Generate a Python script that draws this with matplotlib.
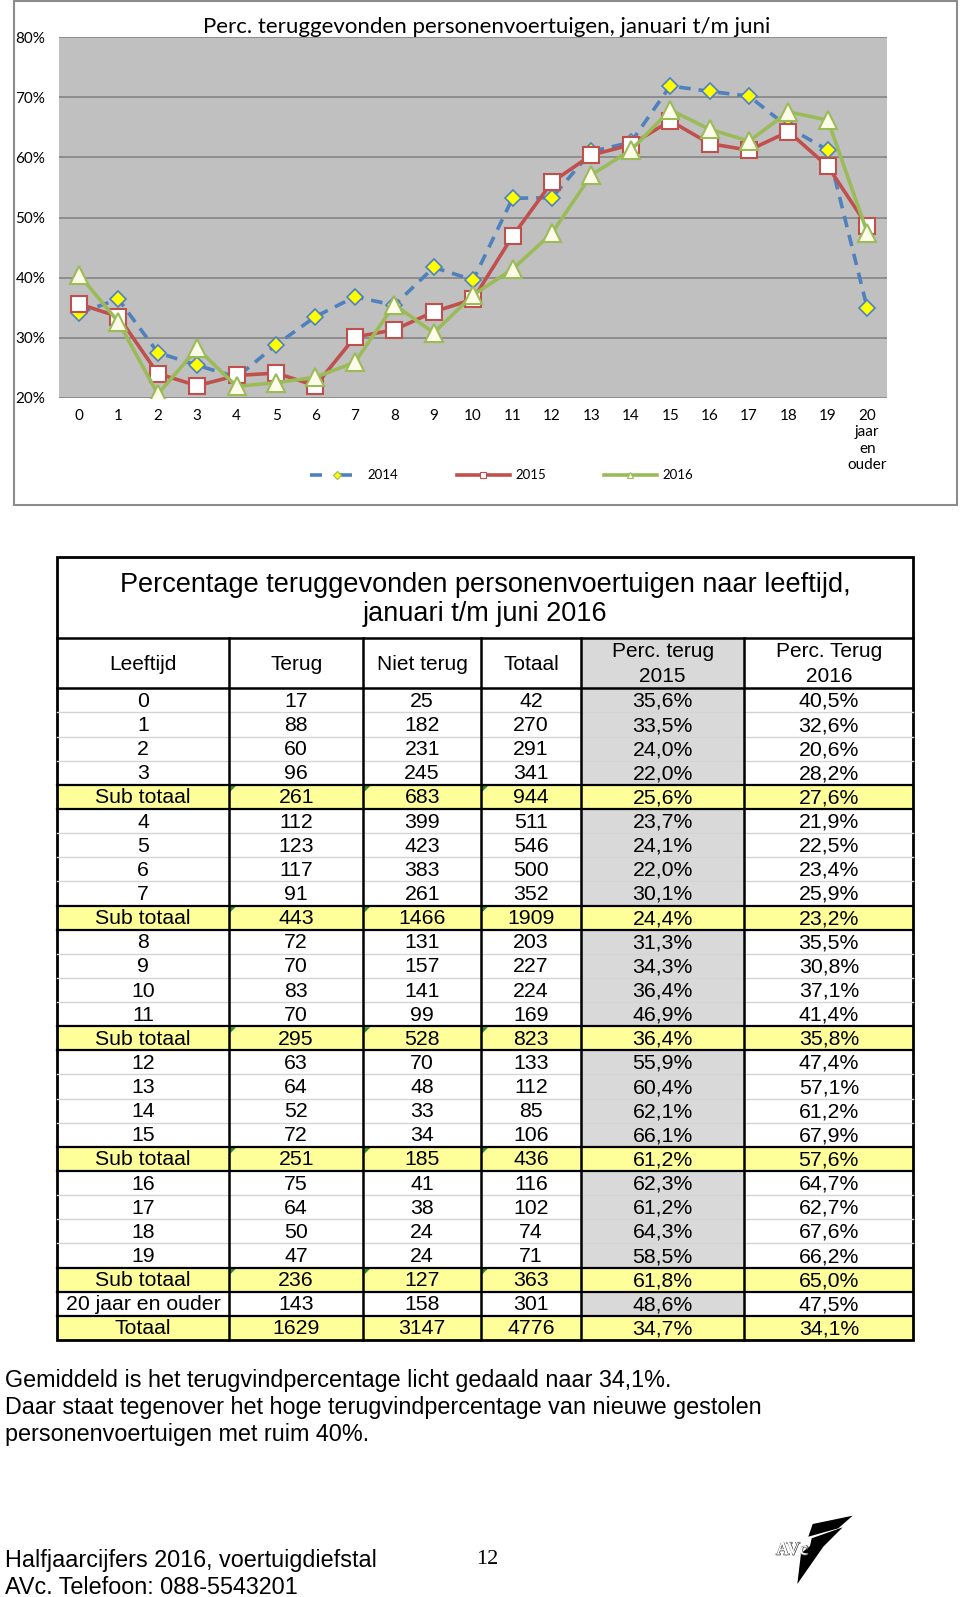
import matplotlib
matplotlib.use('Agg')
import matplotlib.pyplot as plt
from matplotlib.patches import Rectangle, Polygon
import matplotlib.patheffects as pe

# ---- data ----
leeftijd = ['0', '1', '2', '3', 'Sub totaal', '4', '5', '6', '7', 'Sub totaal',
            '8', '9', '10', '11', 'Sub totaal', '12', '13', '14', '15', 'Sub totaal',
            '16', '17', '18', '19', 'Sub totaal', '20 jaar en ouder', 'Totaal']
terug = [17, 88, 60, 96, 261, 112, 123, 117, 91, 443, 72, 70, 83, 70, 295,
         63, 64, 52, 72, 251, 75, 64, 50, 47, 236, 143, 1629]
niet_terug = [25, 182, 231, 245, 683, 399, 423, 383, 261, 1466, 131, 157, 141, 99, 528,
              70, 48, 33, 34, 185, 41, 38, 24, 24, 127, 158, 3147]
totaal = [42, 270, 291, 341, 944, 511, 546, 500, 352, 1909, 203, 227, 224, 169, 823,
          133, 112, 85, 106, 436, 116, 102, 74, 71, 363, 301, 4776]
perc_2015 = [35.6, 33.5, 24.0, 22.0, 25.6, 23.7, 24.1, 22.0, 30.1, 24.4, 31.3, 34.3, 36.4, 46.9, 36.4,
             55.9, 60.4, 62.1, 66.1, 61.2, 62.3, 61.2, 64.3, 58.5, 61.8, 48.6, 34.7]
perc_2016 = [40.5, 32.6, 20.6, 28.2, 27.6, 21.9, 22.5, 23.4, 25.9, 23.2, 35.5, 30.8, 37.1, 41.4, 35.8,
             47.4, 57.1, 61.2, 67.9, 57.6, 64.7, 62.7, 67.6, 66.2, 65.0, 47.5, 34.1]

# 2014 only appears in the chart
perc_2014 = [34.1, 36.4, 27.5, 25.4, 23.4, 28.8, 33.5, 36.8, 35.4, 41.7, 39.6,
             53.2, 53.3, 61.0, 62.5, 71.9, 71.0, 70.2, 65.0, 61.2, 34.9]

chart_labels = [str(i) for i in range(20)] + ['20\njaar\nen\nouder']
header = ['Leeftijd', 'Terug', 'Niet terug', 'Totaal', 'Perc. terug\n2015', 'Perc. Terug\n2016']

# chart series 2015/2016 come from the table rows (skip subtotal and total rows)
age_rows = [i for i, l in enumerate(leeftijd) if l not in ('Sub totaal', 'Totaal')]
chart_2015 = [perc_2015[i] for i in age_rows]
chart_2016 = [perc_2016[i] for i in age_rows]

W, H = 960, 1597
fig = plt.figure(figsize=(W / 100, H / 100), dpi=100)

# page layer in pixel coordinates
pax = fig.add_axes([0, 0, 1, 1])
pax.set_xlim(0, W)
pax.set_ylim(H, 0)
pax.axis('off')

# ---- chart ----
pax.add_patch(Rectangle((14, 1), 943, 504, fill=False, ec='#8c8c8c', lw=1.5))

L, R, T, B = 59.3, 887, 37.3, 397.7
ax = fig.add_axes([L / W, 1 - B / H, (R - L) / W, (B - T) / H])
ax.set_facecolor('#c0c0c0')
x = list(range(len(chart_labels)))
ax.plot(x, [v / 100 for v in perc_2014], color='#4f81bd', lw=2.6, ls=(0, (3.2, 2.2)),
        marker='D', ms=8.5, mfc='#ffff00', mec='#4f81bd', mew=1.2, zorder=3)
ax.plot(x, [v / 100 for v in chart_2015], color='#c0504d', lw=2.6,
        marker='s', ms=11, mfc='white', mec='#c0504d', mew=1.5, zorder=4)
ax.plot(x, [v / 100 for v in chart_2016], color='#9bbb59', lw=2.6,
        marker='^', ms=13, mfc='#fcfce8', mec='#9bbb59', mew=1.5, zorder=5)
ax.set_xlim(-0.5, 20.5)
ax.set_ylim(0.2, 0.8)
ax.set_yticks([0.2, 0.3, 0.4, 0.5, 0.6, 0.7, 0.8])
ax.set_yticklabels(['20%', '30%', '40%', '50%', '60%', '70%', '80%'], fontfamily='Lato', fontsize=11)
ax.set_xticks(x)
ax.set_xticklabels(chart_labels, fontfamily='Lato', fontsize=11, linespacing=1.22, va='top')
ax.tick_params(length=0, pad=8)
ax.tick_params(axis='y', pad=10)
ax.grid(axis='y', color='#858585', lw=1.2)
ax.set_axisbelow(True)
for s in ax.spines.values():
    s.set_visible(False)

fig.text(487 / W, 1 - 27 / H, 'Perc. teruggevonden personenvoertuigen, januari t/m juni',
         ha='center', va='center', fontfamily='Lato', fontsize=16)

# legend
leg_y = 474.7
pax.plot([310, 322], [leg_y, leg_y], color='#4f81bd', lw=2.6, solid_capstyle='butt')
pax.plot([336, 352], [leg_y, leg_y], color='#4f81bd', lw=2.6, solid_capstyle='butt')
pax.plot([337], [leg_y], marker='D', ms=4, mfc='#ffff00', mec='#9bbb59', mew=0.8)
pax.text(367, leg_y, '2014', fontfamily='Lato', fontsize=9.5, va='center')
pax.plot([457, 510], [leg_y, leg_y], color='#c0504d', lw=2.6)
pax.plot([483], [leg_y], marker='s', ms=4.5, mfc='white', mec='#c0504d', mew=0.8)
pax.text(515, leg_y, '2015', fontfamily='Lato', fontsize=9.5, va='center')
pax.plot([604, 657], [leg_y, leg_y], color='#9bbb59', lw=2.6)
pax.plot([630], [leg_y], marker='^', ms=5, mfc='white', mec='#9bbb59', mew=0.8)
pax.text(662, leg_y, '2016', fontfamily='Lato', fontsize=9.5, va='center')

# ---- table ----
cols = [57.3, 229, 363.3, 481, 581, 744.3, 913.3]
t_top, t_title, t_head, t_bot = 557.3, 637.7, 688.3, 1340
rh = (t_bot - t_head) / len(leeftijd)
yellow, grey = '#ffff99', '#d9d9d9'
tfont = 'Liberation Sans'

pax.text(485, 584.5, 'Percentage teruggevonden personenvoertuigen naar leeftijd,',
         ha='center', va='center', fontfamily=tfont, fontsize=19.5)
pax.text(485, 614, 'januari t/m juni 2016', ha='center', va='center', fontfamily=tfont, fontsize=19.5)

# header
pax.add_patch(Rectangle((cols[4], t_title), cols[5] - cols[4], t_head - t_title, fc=grey, ec='none'))
for j, h in enumerate(header):
    cx = (cols[j] + cols[j + 1]) / 2
    pax.text(cx, (t_title + t_head) / 2 + 1, h, ha='center', va='center', fontfamily=tfont,
             fontsize=15, linespacing=1.35)

special = [l in ('Sub totaal', 'Totaal') for l in leeftijd]
for i, lab in enumerate(leeftijd):
    y0 = t_head + i * rh
    if special[i]:
        pax.add_patch(Rectangle((cols[0], y0), cols[-1] - cols[0], rh, fc=yellow, ec='none'))
    else:
        pax.add_patch(Rectangle((cols[4], y0), cols[5] - cols[4], rh, fc=grey, ec='none'))
    vals = [lab, str(terug[i]), str(niet_terug[i]), str(totaal[i]),
            f'{perc_2015[i]:.1f}%'.replace('.', ','), f'{perc_2016[i]:.1f}%'.replace('.', ',')]
    for j, v in enumerate(vals):
        cx = (cols[j] + cols[j + 1]) / 2
        pax.text(cx, y0 + rh / 2 + 1, v, ha='center', va='center', fontfamily=tfont, fontsize=15.3)
    if lab == 'Sub totaal':
        for j in (1, 2, 3):
            pax.add_patch(Polygon([(cols[j] + 1, y0 + 1), (cols[j] + 7, y0 + 1), (cols[j] + 1, y0 + 7)],
                                  closed=True, fc='#2e8b2e', ec='none'))

# horizontal rules
for i in range(1, len(leeftijd)):
    y = t_head + i * rh
    if special[i] or special[i - 1] or leeftijd[i - 1] == '20 jaar en ouder':
        pax.plot([cols[0], cols[-1]], [y, y], color='black', lw=1.6)
    else:
        pax.plot([cols[0], cols[-1]], [y, y], color='#d4d4d4', lw=1.0)
pax.plot([cols[0], cols[-1]], [t_title, t_title], color='black', lw=1.8)
pax.plot([cols[0], cols[-1]], [t_head, t_head], color='black', lw=1.8)
for cx in cols[1:-1]:
    pax.plot([cx, cx], [t_title, t_bot], color='black', lw=1.8)
pax.add_patch(Rectangle((cols[0], t_top), cols[-1] - cols[0], t_bot - t_top, fill=False, ec='black', lw=2))

# ---- body text ----
body = ['Gemiddeld is het terugvindpercentage licht gedaald naar 34,1%.',
        'Daar staat tegenover het hoge terugvindpercentage van nieuwe gestolen',
        'personenvoertuigen met ruim 40%.']
for k, line in enumerate(body):
    pax.text(5, 1381 + k * 26.5, line, va='center', fontfamily=tfont, fontsize=16.8)

pax.text(5, 1561, 'Halfjaarcijfers 2016, voertuigdiefstal', va='center', fontfamily=tfont, fontsize=16.8)
pax.text(5, 1588, 'AVc. Telefoon: 088-5543201', va='center', fontfamily=tfont, fontsize=16.8)
pax.text(487, 1559, '12', ha='center', va='center', fontfamily='Liberation Serif', fontsize=16)

# logo
pax.add_patch(Polygon([(812.7, 1524), (852.7, 1515.7), (838.3, 1528.3), (808.3, 1536.7)],
                      closed=True, fc='black', ec='none'))
pax.add_patch(Polygon([(811.7, 1538.3), (842.7, 1527.3), (823.3, 1546.7), (797.3, 1584),
                       (801, 1553.3), (810, 1546)], closed=True, fc='black', ec='none'))
pax.text(792, 1550, 'AVc', ha='center', va='center', fontfamily='Liberation Serif', fontsize=13,
         color='white', path_effects=[pe.withStroke(linewidth=1.2, foreground='#555555')])
pax.text(792, 1550, 'AVc', ha='center', va='center', fontfamily='Liberation Serif', fontsize=13,
         color='white')

fig.savefig('out.png', dpi=100)
